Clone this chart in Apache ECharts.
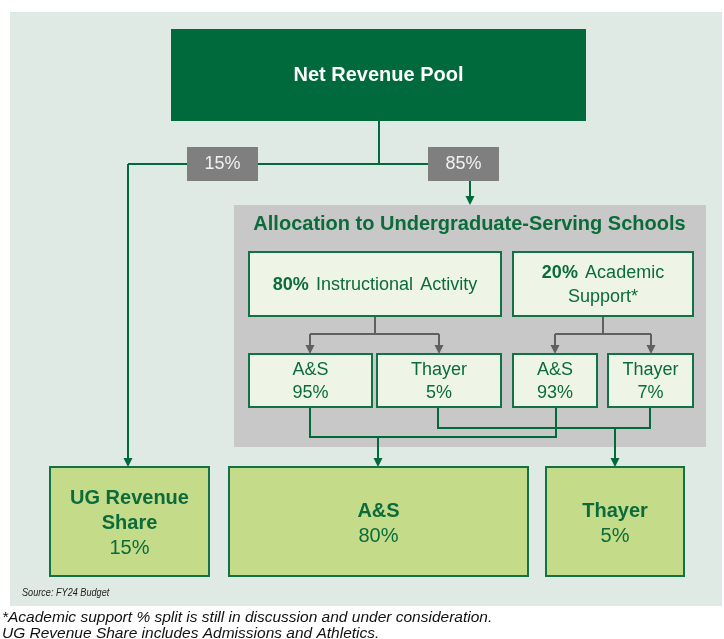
<!DOCTYPE html>
<html><head><meta charset="utf-8">
<script src="https://cdn.jsdelivr.net/npm/echarts@6/dist/echarts.min.js"></script>
<style>html,body{margin:0;padding:0;background:#ffffff}#c{width:724px;height:639px}</style>
</head><body><div id="c"></div>
<script>
// ---------- data ----------
const poolLabel = 'Net Revenue Pool';
const splitShares = ['15%', '85%'];
const allocationTitle = 'Allocation to Undergraduate-Serving Schools';
const allocationPcts = ['80%', '20%'];
const allocationNames = [['Instructional', 'Activity'], ['Academic', '\nSupport*']];
const schoolNames = ['A&S', 'Thayer', 'A&S', 'Thayer'];
const schoolShares = ['95%', '5%', '93%', '7%'];
const finalNames = [['UG Revenue', 'Share'], ['A&S'], ['Thayer']];
const finalShares = ['15%', '80%', '5%'];
const sourceNote = 'Source: FY24 Budget';
const footnotes = [
  '*Academic support % split is still in discussion and under consideration.',
  'UG Revenue Share includes Admissions and Athletics.'
];

// ---------- layout (diagram geometry, px in a 724x639 frame) ----------
const L = {
  panel: [10, 12, 722, 606],
  pool: [171, 29, 586, 121],
  split: [[187, 147, 258, 181], [428, 147, 499, 181]],
  region: [234, 205, 706, 447],
  alloc: [[249, 252, 501, 316], [513, 252, 693, 316]],
  school: [[249, 354, 372, 407], [377, 354, 501, 407], [513, 354, 597, 407], [608, 354, 693, 407]],
  final: [[50, 467, 209, 576], [229, 467, 528, 576], [546, 467, 684, 576]],
  greenLines: [
    { p: [[379, 121], [379, 164]] },
    { p: [[128, 164], [470, 164]] },
    { p: [[128, 164], [128, 467]], arrow: true },
    { p: [[470, 181], [470, 205]], arrow: true },
    { p: [[310, 407], [310, 437], [556, 437], [556, 407]] },
    { p: [[378, 437], [378, 467]], arrow: true },
    { p: [[438, 407], [438, 428], [650, 428], [650, 407]] },
    { p: [[615, 428], [615, 467]], arrow: true }
  ],
  grayLines: [
    { p: [[375, 316], [375, 334]] },
    { p: [[310, 334], [439, 334]] },
    { p: [[310, 334], [310, 354]], arrow: true },
    { p: [[439, 334], [439, 354]], arrow: true },
    { p: [[603, 316], [603, 334]] },
    { p: [[555, 334], [651, 334]] },
    { p: [[555, 334], [555, 354]], arrow: true },
    { p: [[651, 334], [651, 354]], arrow: true }
  ]
};

const C = {
  panel: '#e0eae5', pool: '#006a3d', split: '#7f7f7f', region: '#c8c8c8',
  lightFill: '#eff5e6', finalFill: '#c4dc8a', border: '#137146', text: '#0b6b3a',
  grayLine: '#606060'
};
const FF = "'Liberation Sans', Arial, sans-serif";

// ---------- build shape list ----------
const shapes = [];
function box(r, fill, stroke, lw) { shapes.push({ t: 'rect', r, fill, stroke, lw }); }
function line(l, color) { shapes.push({ t: 'line', p: l.p, arrow: l.arrow, color }); }
function text(x, y, str, style, extra) { shapes.push(Object.assign({ t: 'text', x, y, str, style }, extra || {})); }
const cx = r => (r[0] + r[2]) / 2, cy = r => (r[1] + r[3]) / 2;

box(L.panel, C.panel);
box(L.region, C.region);
L.greenLines.forEach(l => line(l, C.pool));
L.grayLines.forEach(l => line(l, C.grayLine));
box(L.pool, C.pool);
text(cx(L.pool), cy(L.pool), poolLabel, { fill: '#ffffff', font: 'bold 20px ' + FF });
L.split.forEach((r, i) => {
  box(r, C.split);
  text(cx(r), cy(r), splitShares[i], { fill: '#f2f2f2', font: '18px ' + FF });
});
text(469.5, 224, allocationTitle, { fill: C.text, font: 'bold 20px ' + FF, letterSpacing: 0.1 });
L.alloc.forEach((r, i) => {
  box(r, C.lightFill, C.border, 2);
  const toks = ['{b|' + allocationPcts[i] + '}'];
  allocationNames[i].forEach(n => {
    if (n.charAt(0) === '\n') toks.push('\n{n|' + n.slice(1) + '}');
    else toks.push('{s| }{n|' + n + '}');
  });
  text(cx(r), cy(r) + 1, toks.join(''), {
    rich: {
      b: { fill: C.text, fontSize: 18, fontWeight: 'bold', fontFamily: FF, lineHeight: 24 },
      n: { fill: C.text, fontSize: 18, fontFamily: FF, lineHeight: 24 },
      s: { fill: C.text, fontSize: 26, fontFamily: FF, lineHeight: 24 }
    }
  });
});
L.school.forEach((r, i) => {
  box(r, C.lightFill, C.border, 2);
  text(cx(r), cy(r) + 1, '{n|' + schoolNames[i] + '}\n{n|' + schoolShares[i] + '}', {
    rich: { n: { fill: C.text, fontSize: 18, fontFamily: FF, lineHeight: 23 } }
  });
});
L.final.forEach((r, i) => {
  box(r, C.finalFill, C.border, 2);
  const parts = finalNames[i].map(n => '{b|' + n + '}').concat(['{n|' + finalShares[i] + '}']);
  text(cx(r), cy(r) + 2, parts.join('\n'), {
    rich: {
      b: { fill: C.text, fontSize: 20, fontWeight: 'bold', fontFamily: FF, lineHeight: 25 },
      n: { fill: C.text, fontSize: 20, fontFamily: FF, lineHeight: 25 }
    }
  });
});
text(22, 593, sourceNote, { fill: '#222222', font: 'italic 11px ' + FF }, { align: 'left', scaleX: 0.83 });
footnotes.forEach((f, i) => text(2, 618 + i * 16, f, { fill: '#111111', font: 'italic 15.5px ' + FF }, { align: 'left' }));

// ---------- render ----------
function renderItem(params, api) {
  const s = shapes[api.value(0)];
  if (s.t === 'rect') {
    const a = api.coord([s.r[0], s.r[1]]), b = api.coord([s.r[2], s.r[3]]);
    return { type: 'rect', shape: { x: a[0], y: a[1], width: b[0] - a[0], height: b[1] - a[1] },
      style: { fill: s.fill, stroke: s.stroke || null, lineWidth: s.lw || 0 } };
  }
  if (s.t === 'line') {
    const pts = s.p.map(p => api.coord(p));
    const children = [];
    const drawPts = pts.slice();
    if (s.arrow) {
      const end = pts[pts.length - 1];
      const prev = pts[pts.length - 2];
      const dy = Math.sign(end[1] - prev[1]) || 1;
      const hl = 9, hw = 4.5;
      drawPts[drawPts.length - 1] = [end[0], end[1] - dy * hl + dy];
      children.push({ type: 'polygon', shape: { points: [[end[0] - hw, end[1] - dy * hl], [end[0] + hw, end[1] - dy * hl], [end[0], end[1]]] },
        style: { fill: s.color } });
    }
    children.unshift({ type: 'polyline', shape: { points: drawPts }, style: { stroke: s.color, lineWidth: 2, fill: null } });
    return { type: 'group', children };
  }
  const p = api.coord([s.x, s.y]);
  return { type: 'text', x: p[0], y: p[1], scaleX: s.scaleX || 1,
    style: Object.assign({ text: s.str, align: s.align || 'center', verticalAlign: 'middle' }, s.style) };
}

const chart = echarts.init(document.getElementById('c'), null, { renderer: 'canvas' });
chart.setOption({
  backgroundColor: '#ffffff',
  animation: false,
  grid: { left: 0, right: 0, top: 0, bottom: 0 },
  xAxis: { type: 'value', min: 0, max: 724, show: false },
  yAxis: { type: 'value', min: 0, max: 639, inverse: true, show: false },
  series: [{
    type: 'custom', clip: false, silent: true,
    renderItem,
    data: shapes.map((s, i) => [i])
  }]
});
</script></body></html>
